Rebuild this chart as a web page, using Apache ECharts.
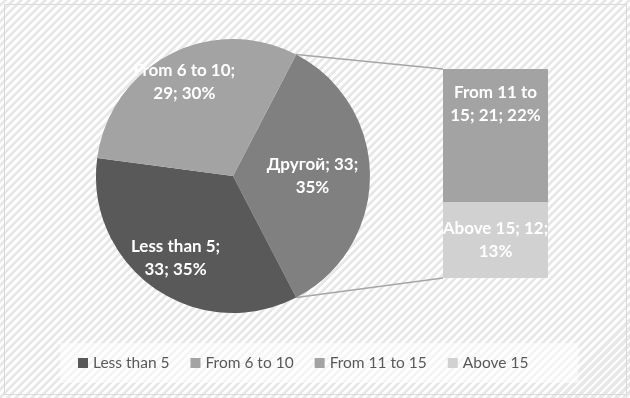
<!DOCTYPE html>
<html>
<head>
<meta charset="utf-8">
<script src="https://cdn.jsdelivr.net/npm/echarts@6/dist/echarts.min.js"></script>
<style>
html, body { margin: 0; padding: 0; }
#chart {
    width: 630px; height: 398px;
    background: repeating-linear-gradient(-45deg, #ffffff 0px, #ffffff 2.8px, #e8e8e8 2.8px, #e8e8e8 5.66px);
}
</style>
</head>
<body>
<div id="chart"></div>
<script>
// pie part (the "other" slice groups the two bar items)
var pieNames = ['Другой', 'Less than 5', 'From 6 to 10'];
var pieValues = [33, 33, 29];
var pieColors = ['#808080', '#595959', '#a3a3a3'];
// bar part, bottom to top
var barNames = ['Above 15', 'From 11 to 15'];
var barValues = [12, 21];
var barColors = ['#d1d1d1', '#a3a3a3'];
var legendNames = ['Less than 5', 'From 6 to 10', 'From 11 to 15', 'Above 15'];

var CX = 233, CY = 176, R = 137;
var GRID = { left: 443, top: 69, width: 105, height: 209 };
var LABEL_R = [0.58, 0.73, 0.77];

var total = pieValues.reduce(function (a, b) { return a + b; }, 0);
var otherTotal = barValues.reduce(function (a, b) { return a + b; }, 0);
var startAngle = 360 * pieValues[0] / total / 2;

function wrap(s, n) {
    var words = s.split(' '), lines = [], cur = '';
    words.forEach(function (w) {
        if (cur && (cur + ' ' + w).length > n) { lines.push(cur); cur = w; }
        else cur = cur ? cur + ' ' + w : w;
    });
    lines.push(cur);
    return lines.join('\n');
}

var midAngles = [];
(function () {
    var a = startAngle;
    pieValues.forEach(function (v) {
        var span = 360 * v / total;
        midAngles.push(a - span / 2);
        a -= span;
    });
})();

var labelFont = { color: '#ffffff', fontFamily: 'Lato', fontWeight: 'bold', fontSize: 17, lineHeight: 23 };

var chart = echarts.init(document.getElementById('chart'));
var option = {
    backgroundColor: 'transparent',
    animation: false,
    legend: {
        data: legendNames,
        left: 60, top: 343,
        padding: [12, 50, 12, 18],
        backgroundColor: 'rgba(255,255,255,0.55)',
        itemWidth: 10, itemHeight: 10, itemGap: 21,
        icon: 'rect',
        textStyle: { color: '#595959', fontFamily: 'Lato', fontSize: 15.5 }
    },
    grid: { left: GRID.left, top: GRID.top, width: GRID.width, height: GRID.height },
    xAxis: { type: 'category', data: [''], show: false },
    yAxis: { type: 'value', min: 0, max: otherTotal, show: false },
    series: [
        {
            type: 'pie',
            center: [CX, CY],
            radius: [0, R],
            startAngle: startAngle,
            clockwise: true,
            percentPrecision: 0,
            data: pieNames.map(function (n, i) {
                return { name: n, value: pieValues[i], itemStyle: { color: pieColors[i] } };
            }),
            label: Object.assign({
                position: 'inside',
                formatter: function (p) {
                    return wrap(p.name + '; ' + p.value + '; ' + p.percent + '%', 13);
                }
            }, labelFont),
            labelLayout: function (p) {
                var a = midAngles[p.dataIndex] * Math.PI / 180;
                var r = R * LABEL_R[p.dataIndex];
                return { x: CX + r * Math.cos(a), y: CY - r * Math.sin(a), align: 'center', verticalAlign: 'middle' };
            },
            emphasis: { disabled: true }
        }
    ].concat(barNames.map(function (n, i) {
        return {
            type: 'bar',
            name: n,
            stack: 'other',
            barWidth: '100%',
            data: [barValues[i]],
            itemStyle: { color: barColors[i] },
            label: Object.assign({
                show: true,
                position: i === 1 ? 'insideTop' : 'inside',
                distance: 12,
                formatter: function (p) {
                    return wrap(p.seriesName + '; ' + p.value + '; ' + Math.round(p.value / total * 100) + '%', 13);
                }
            }, labelFont),
            emphasis: { disabled: true }
        };
    }))
};
chart.setOption(option);

// connector lines from the "other" slice edges to the bar
var topY = chart.convertToPixel({ yAxisIndex: 0 }, otherTotal);
var botY = chart.convertToPixel({ yAxisIndex: 0 }, 0);
var edge = startAngle * Math.PI / 180;
var px = CX + R * Math.cos(edge);
chart.setOption({
    graphic: [
        { type: 'rect', shape: { x: 4.5, y: 4.5, width: 622, height: 390 }, style: { fill: 'none', stroke: '#d9d9d9', lineWidth: 1 }, silent: true },
        { type: 'line', shape: { x1: px, y1: CY - R * Math.sin(edge), x2: GRID.left, y2: topY }, style: { stroke: '#a6a6a6', lineWidth: 1.5 }, silent: true },
        { type: 'line', shape: { x1: px, y1: CY + R * Math.sin(edge), x2: GRID.left, y2: botY }, style: { stroke: '#a6a6a6', lineWidth: 1.5 }, silent: true }
    ]
});
</script>
</body>
</html>
